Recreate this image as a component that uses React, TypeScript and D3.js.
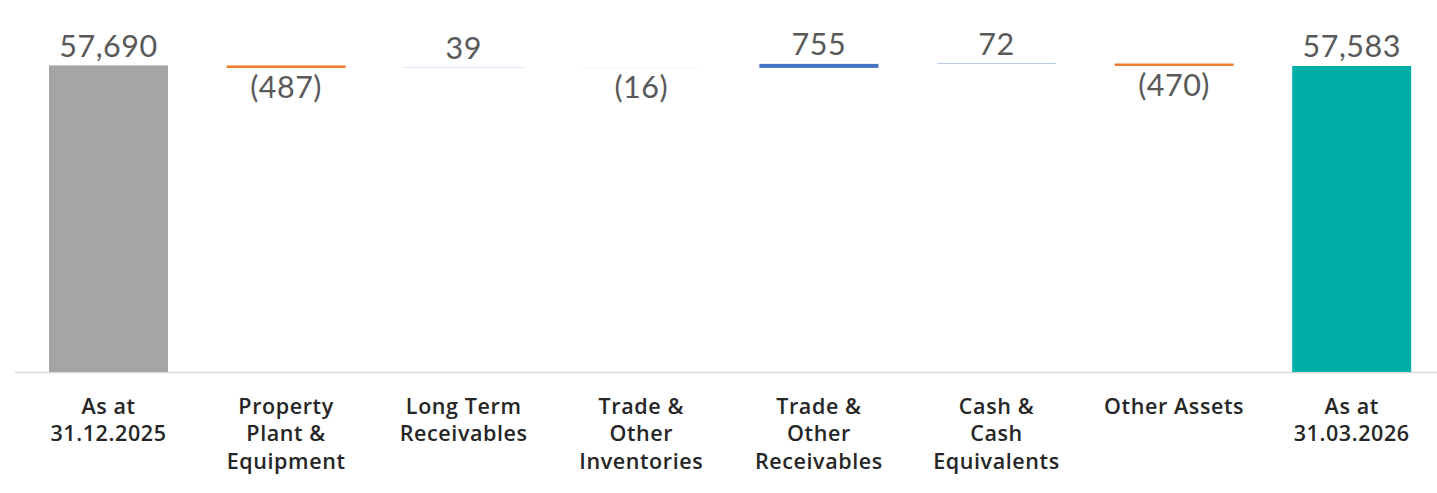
import React from "react";
import * as d3 from "d3";

const categories: string[][] = [
  ["As at", "31.12.2025"],
  ["Property", "Plant &", "Equipment"],
  ["Long Term", "Receivables"],
  ["Trade &", "Other", "Inventories"],
  ["Trade &", "Other", "Receivables"],
  ["Cash &", "Cash", "Equivalents"],
  ["Other Assets"],
  ["As at", "31.03.2026"],
];
const openingTotal = 57690;
const deltas = [-487, 39, -16, 755, 72, -470];
const closingTotal = 57583;

const W = 1437;
const H = 493;

const COLORS = {
  start: "#A5A5A5",
  end: "#00B0A8",
  up: "#4472C4",
  down: "#ED7D31",
};

type Bar = { key: number; lo: number; hi: number; kind: "start" | "end" | "up" | "down"; value: number };

function buildBars(): Bar[] {
  const bars: Bar[] = [{ key: 0, lo: 0, hi: openingTotal, kind: "start", value: openingTotal }];
  let cum = openingTotal;
  deltas.forEach((d, i) => {
    const next = cum + d;
    bars.push({ key: i + 1, lo: Math.min(cum, next), hi: Math.max(cum, next), kind: d >= 0 ? "up" : "down", value: d });
    cum = next;
  });
  bars.push({ key: bars.length, lo: 0, hi: closingTotal, kind: "end", value: closingTotal });
  return bars;
}

const fmt = d3.format(",");
function label(b: Bar) {
  if (b.value < 0) return `(${fmt(-b.value)})`;
  return fmt(b.value);
}

export default function App() {
  const bars = buildBars();
  const x = d3
    .scaleBand<number>()
    .domain(bars.map((b) => b.key))
    .range([19.7, 1440.5])
    .paddingInner(0.33)
    .paddingOuter(0.165);
  const y = d3.scaleLinear().domain([0, 70000]).range([372, 0]);

  return (
    <svg width={W} height={H} style={{ position: "absolute", left: 0, top: 0, background: "#fff" }}>
      <line x1={15} x2={W} y1={372.5} y2={372.5} stroke="#D9D9D9" strokeWidth={1.5} />
      {bars.map((b) => {
        const x0 = x(b.key)!;
        const yTop = y(b.hi);
        const yBot = y(b.lo);
        const cx = x0 + x.bandwidth() / 2;
        const ly = b.value < 0 ? yBot + 30 : yTop - 8.5;
        return (
          <g key={b.key}>
            <rect x={x0} y={yTop} width={x.bandwidth()} height={Math.max(0, yBot - yTop)} fill={COLORS[b.kind]} />
            <text
              x={cx}
              y={ly}
              textAnchor="middle"
              fontFamily="Lato, 'Open Sans', sans-serif"
              fontWeight={400}
              fontSize={30.5}
              letterSpacing={0.5}
              fill="#595959"
            >
              {label(b)}
            </text>
            {categories[b.key].map((line, j) => (
              <text
                key={j}
                x={cx}
                y={413.5 + j * 27.8}
                textAnchor="middle"
                fontFamily="'Open Sans', Lato, sans-serif"
                fontWeight={600}
                fontSize={21.5}
                letterSpacing={0.6}
                fill="#262626"
              >
                {line}
              </text>
            ))}
          </g>
        );
      })}
    </svg>
  );
}
